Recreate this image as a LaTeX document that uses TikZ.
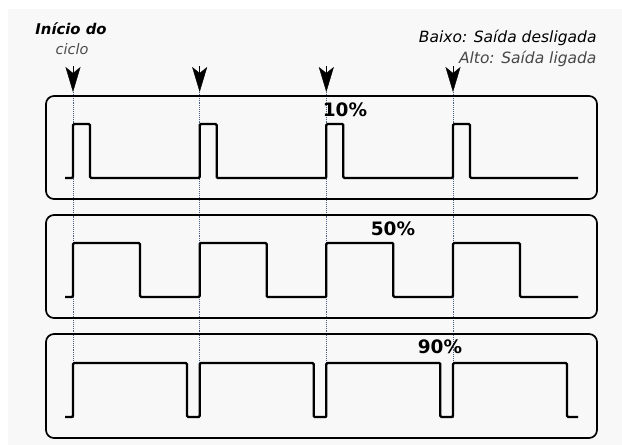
\documentclass[tikz,border=0pt]{standalone}
\usepackage{fontspec}
\setmainfont{DejaVu Sans}
\usetikzlibrary{arrows.meta}
\definecolor{fundo}{HTML}{F8F8F8}
\definecolor{guia}{HTML}{4A5F86}
\tikzset{
  caixa/.style={draw, line width=1.7pt, rounded corners=8pt},
  sinal/.style={line width=2.3pt, rounded corners=1.2pt},
  seta/.style={-{Stealth[length=25pt,width=15pt,inset=6pt]}, line width=0.4pt},
  guiapont/.style={draw=guia, densely dotted, line width=0.9pt},
  pct/.style={font=\fontsize{18.5}{20}\selectfont\bfseries}
}
\begin{document}
\begin{tikzpicture}[x=1pt,y=-1pt]
\useasboundingbox (0,0) rectangle (622,445);
\fill[fundo] (8,9) rectangle (622,445);
% guias do inicio de cada ciclo
\foreach \x[count=\i] in {73,199.67,326.33,453}{
  \coordinate (topo\i) at (\x,66);
  \coordinate (ponta\i) at (\x,92);
  \coordinate (pe\i) at (\x,417);
  \draw[guiapont] (ponta\i) -- (pe\i);
  \draw[seta] (topo\i) -- (ponta\i);
}
% caixas
\foreach \t/\b in {96/199,215/318,334/438}\draw[caixa] (46,\t) rectangle (597,\b);
% sinais: largura do pulso / alto / baixo
\foreach \w/\a/\b in {17/124/178,67/243/297,114/363/417}
  \draw[sinal] (65,\b) foreach \x in {73,199.67,326.33,453}{ -- (\x,\b) -- (\x,\a) -- (\x+\w,\a) -- (\x+\w,\b)} -- (578,\b);
% textos
\node[font=\fontsize{14.8}{16}\selectfont\bfseries\itshape] (inicio) at (71,29) {Início do};
\node[font=\fontsize{14.5}{16}\selectfont\itshape, text=black!70] (ciclo) at (72,49) {ciclo};
\node[font=\fontsize{15.5}{17}\selectfont\itshape, anchor=east] (baixo) at (600,38) {Baixo: Saída desligada};
\node[font=\fontsize{15.5}{17}\selectfont\itshape, text=black!72, anchor=east] (alto) at (600,59) {Alto: Saída ligada};
\foreach \x/\y/\gt[count=\i] in {345/110/10,393/229/50,440/347/90}\path (\x,\y) node[pct](p\i){\gt\%};
\end{tikzpicture}
\end{document}
